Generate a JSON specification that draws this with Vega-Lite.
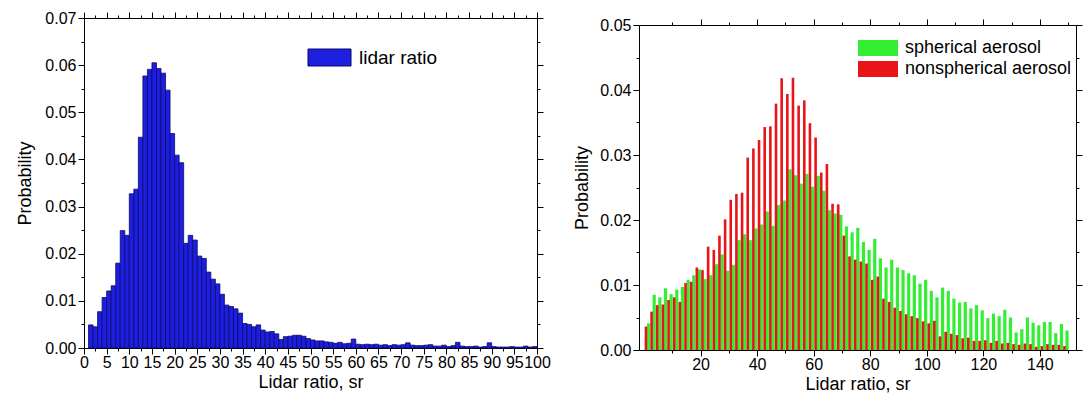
{
  "$schema": "https://vega.github.io/schema/vega-lite/v6.json",
  "background": "white",
  "padding": {"left": 16, "top": 10, "right": 2, "bottom": 2},
  "config": {
    "font": "Liberation Sans",
    "view": {"stroke": null},
    "axis": {"grid": false, "domainColor": "black", "tickColor": "black", "labelColor": "black", "titleColor": "black", "labelFont": "Liberation Sans", "titleFont": "Liberation Sans", "labelFontSize": 16, "titleFontSize": 18, "titleFontWeight": "normal", "tickWidth": 1, "domainWidth": 1, "labelOverlap": false, "labelFlush": false},
    "legend": {"labelFont": "Liberation Sans", "labelColor": "black", "padding": 0, "labelLimit": 400}
  },
  "datasets": {
    "left": [
      {"lo":1,"hi":2,"p":0.0049},{"lo":2,"hi":3,"p":0.0045},{"lo":3,"hi":4,"p":0.0077},{"lo":4,"hi":5,"p":0.0107},{"lo":5,"hi":6,"p":0.0121},
      {"lo":6,"hi":7,"p":0.0132},{"lo":7,"hi":8,"p":0.018},{"lo":8,"hi":9,"p":0.0249},{"lo":9,"hi":10,"p":0.0239},{"lo":10,"hi":11,"p":0.0327},
      {"lo":11,"hi":12,"p":0.0337},{"lo":12,"hi":13,"p":0.0447},{"lo":13,"hi":14,"p":0.0577},{"lo":14,"hi":15,"p":0.0591},{"lo":15,"hi":16,"p":0.0605},
      {"lo":16,"hi":17,"p":0.0593},{"lo":17,"hi":18,"p":0.0583},{"lo":18,"hi":19,"p":0.0547},{"lo":19,"hi":20,"p":0.0455},{"lo":20,"hi":21,"p":0.0409},
      {"lo":21,"hi":22,"p":0.0393},{"lo":22,"hi":23,"p":0.0222},{"lo":23,"hi":24,"p":0.0239},{"lo":24,"hi":25,"p":0.0229},{"lo":25,"hi":26,"p":0.0195},
      {"lo":26,"hi":27,"p":0.019},{"lo":27,"hi":28,"p":0.0161},{"lo":28,"hi":29,"p":0.0146},{"lo":29,"hi":30,"p":0.0136},{"lo":30,"hi":31,"p":0.0114},
      {"lo":31,"hi":32,"p":0.0091},{"lo":32,"hi":33,"p":0.0088},{"lo":33,"hi":34,"p":0.0083},{"lo":34,"hi":35,"p":0.0074},{"lo":35,"hi":36,"p":0.0052},
      {"lo":36,"hi":37,"p":0.005},{"lo":37,"hi":38,"p":0.0045},{"lo":38,"hi":39,"p":0.0049},{"lo":39,"hi":40,"p":0.0038},{"lo":40,"hi":41,"p":0.0034},
      {"lo":41,"hi":42,"p":0.0035},{"lo":42,"hi":43,"p":0.003},{"lo":43,"hi":44,"p":0.0018},{"lo":44,"hi":45,"p":0.0024},{"lo":45,"hi":46,"p":0.0025},
      {"lo":46,"hi":47,"p":0.0027},{"lo":47,"hi":48,"p":0.0027},{"lo":48,"hi":49,"p":0.0025},{"lo":49,"hi":50,"p":0.002},{"lo":50,"hi":51,"p":0.0017},
      {"lo":51,"hi":52,"p":0.0015},{"lo":52,"hi":53,"p":0.0015},{"lo":53,"hi":54,"p":0.0013},{"lo":54,"hi":55,"p":0.0012},{"lo":55,"hi":56,"p":0.001},
      {"lo":56,"hi":57,"p":0.0012},{"lo":57,"hi":58,"p":0.0009},{"lo":58,"hi":59,"p":0.001},{"lo":59,"hi":60,"p":0.0019},{"lo":60,"hi":61,"p":0.0008},
      {"lo":61,"hi":62,"p":0.0007},{"lo":62,"hi":63,"p":0.0008},{"lo":63,"hi":64,"p":0.0007},{"lo":64,"hi":65,"p":0.0008},{"lo":65,"hi":66,"p":0.0006},
      {"lo":66,"hi":67,"p":0.0007},{"lo":67,"hi":68,"p":0.0005},{"lo":68,"hi":69,"p":0.0007},{"lo":69,"hi":70,"p":0.0006},{"lo":70,"hi":71,"p":0.0007},
      {"lo":71,"hi":72,"p":0.0011},{"lo":72,"hi":73,"p":0.0006},{"lo":73,"hi":74,"p":0.0005},{"lo":74,"hi":75,"p":0.0005},{"lo":75,"hi":76,"p":0.0006},
      {"lo":76,"hi":77,"p":0.0007},{"lo":77,"hi":78,"p":0.0004},{"lo":78,"hi":79,"p":0.0004},{"lo":79,"hi":80,"p":0.0006},{"lo":80,"hi":81,"p":0.0003},
      {"lo":81,"hi":82,"p":0.0005},{"lo":82,"hi":83,"p":0.0012},{"lo":83,"hi":84,"p":0.0004},{"lo":84,"hi":85,"p":0.0003},{"lo":85,"hi":86,"p":0.0003},
      {"lo":86,"hi":87,"p":0.0004},{"lo":87,"hi":88,"p":0.0002},{"lo":88,"hi":89,"p":0.0003},{"lo":89,"hi":90,"p":0.0011},{"lo":90,"hi":91,"p":0.0003},
      {"lo":91,"hi":92,"p":0.0002},{"lo":92,"hi":93,"p":0.0002},{"lo":93,"hi":94,"p":0.0002},{"lo":94,"hi":95,"p":0.0003},{"lo":95,"hi":96,"p":0.0002},
      {"lo":96,"hi":97,"p":0.0002},{"lo":97,"hi":98,"p":0.0004},{"lo":98,"hi":99,"p":0.0002},{"lo":99,"hi":100,"p":0.0003}
    ],
    "sph": [
      {"c":1,"p":0.0041},{"c":3,"p":0.0085},{"c":5,"p":0.0081},{"c":7,"p":0.0095},{"c":9,"p":0.0086},
      {"c":11,"p":0.0093},{"c":13,"p":0.0097},{"c":15,"p":0.0108},{"c":17,"p":0.0115},{"c":19,"p":0.0124},
      {"c":21,"p":0.0109},{"c":23,"p":0.0115},{"c":25,"p":0.0132},{"c":27,"p":0.0147},{"c":29,"p":0.0122},
      {"c":31,"p":0.0131},{"c":33,"p":0.0169},{"c":35,"p":0.0178},{"c":37,"p":0.0169},{"c":39,"p":0.0187},
      {"c":41,"p":0.0193},{"c":43,"p":0.0213},{"c":45,"p":0.0191},{"c":47,"p":0.0223},{"c":49,"p":0.023},
      {"c":51,"p":0.0278},{"c":53,"p":0.0269},{"c":55,"p":0.0256},{"c":57,"p":0.0271},{"c":59,"p":0.0251},
      {"c":61,"p":0.0268},{"c":63,"p":0.0245},{"c":65,"p":0.0215},{"c":67,"p":0.021},{"c":69,"p":0.0208},
      {"c":71,"p":0.019},{"c":73,"p":0.0181},{"c":75,"p":0.0188},{"c":77,"p":0.0166},{"c":79,"p":0.0154},
      {"c":81,"p":0.0171},{"c":83,"p":0.0141},{"c":85,"p":0.0127},{"c":87,"p":0.0139},{"c":89,"p":0.0127},
      {"c":91,"p":0.0123},{"c":93,"p":0.0118},{"c":95,"p":0.0115},{"c":97,"p":0.0102},{"c":99,"p":0.0108},
      {"c":101,"p":0.0091},{"c":103,"p":0.0081},{"c":105,"p":0.0096},{"c":107,"p":0.0091},{"c":109,"p":0.0079},
      {"c":111,"p":0.0073},{"c":113,"p":0.0074},{"c":115,"p":0.0064},{"c":117,"p":0.0069},{"c":119,"p":0.0061},
      {"c":121,"p":0.0049},{"c":123,"p":0.0056},{"c":125,"p":0.0052},{"c":127,"p":0.0062},{"c":129,"p":0.005},
      {"c":131,"p":0.0027},{"c":133,"p":0.0032},{"c":135,"p":0.005},{"c":137,"p":0.0042},{"c":139,"p":0.0038},
      {"c":141,"p":0.0043},{"c":143,"p":0.0043},{"c":145,"p":0.0026},{"c":147,"p":0.004},{"c":149,"p":0.003}
    ],
    "nonsph": [
      {"c":1,"p":0.0036},{"c":3,"p":0.0059},{"c":5,"p":0.0069},{"c":7,"p":0.007},{"c":9,"p":0.0077},
      {"c":11,"p":0.0081},{"c":13,"p":0.0074},{"c":15,"p":0.0103},{"c":17,"p":0.0105},{"c":19,"p":0.0127},
      {"c":21,"p":0.0123},{"c":23,"p":0.0159},{"c":25,"p":0.0154},{"c":27,"p":0.0176},{"c":29,"p":0.0201},
      {"c":31,"p":0.0231},{"c":33,"p":0.024},{"c":35,"p":0.0242},{"c":37,"p":0.0296},{"c":39,"p":0.031},
      {"c":41,"p":0.0323},{"c":43,"p":0.0343},{"c":45,"p":0.0344},{"c":47,"p":0.0379},{"c":49,"p":0.0418},
      {"c":51,"p":0.0394},{"c":53,"p":0.0419},{"c":55,"p":0.0376},{"c":57,"p":0.0384},{"c":59,"p":0.0349},
      {"c":61,"p":0.0327},{"c":63,"p":0.0273},{"c":65,"p":0.0286},{"c":67,"p":0.0225},{"c":69,"p":0.0224},
      {"c":71,"p":0.0176},{"c":73,"p":0.0144},{"c":75,"p":0.0139},{"c":77,"p":0.0136},{"c":79,"p":0.0133},
      {"c":81,"p":0.0108},{"c":83,"p":0.0113},{"c":85,"p":0.0079},{"c":87,"p":0.0074},{"c":89,"p":0.0065},
      {"c":91,"p":0.006},{"c":93,"p":0.0055},{"c":95,"p":0.0052},{"c":97,"p":0.0049},{"c":99,"p":0.0044},
      {"c":101,"p":0.0041},{"c":103,"p":0.0045},{"c":105,"p":0.0021},{"c":107,"p":0.0028},{"c":109,"p":0.0025},
      {"c":111,"p":0.0023},{"c":113,"p":0.0018},{"c":115,"p":0.0019},{"c":117,"p":0.0014},{"c":119,"p":0.0014},
      {"c":121,"p":0.0015},{"c":123,"p":0.0011},{"c":125,"p":0.0014},{"c":127,"p":0.001},{"c":129,"p":0.0011},
      {"c":131,"p":0.0009},{"c":133,"p":0.0008},{"c":135,"p":0.001},{"c":137,"p":0.0009},{"c":139,"p":0.0005},
      {"c":141,"p":0.0006},{"c":143,"p":0.0009},{"c":145,"p":0.0008},{"c":147,"p":0.0008},{"c":149,"p":0.0006}
    ]
  },
  "spacing": 22,
  "resolve": {"scale": {"color": "independent"}, "legend": {"color": "independent"}},
  "hconcat": [
    {
      "width": 453,
      "height": 330,
      "data": {"name": "left"},
      "resolve": {"axis": {"x": "independent", "y": "independent"}},
      "layer": [
        {
          "mark": {"type": "bar", "stroke": "#0a0a6a", "strokeWidth": 0.8},
          "encoding": {
            "x": {"field": "lo", "type": "quantitative", "scale": {"domain": [0, 100], "nice": false, "zero": false},
              "axis": {"orient": "bottom", "values": [0,5,10,15,20,25,30,35,40,45,50,55,60,65,70,75,80,85,90,95,100], "tickSize": 6, "labelPadding": 0, "title": "Lidar ratio, sr", "titlePadding": 3}},
            "x2": {"field": "hi"},
            "y": {"field": "p", "type": "quantitative", "stack": null, "scale": {"domain": [0, 0.07], "nice": false},
              "axis": {"orient": "left", "values": [0,0.01,0.02,0.03,0.04,0.05,0.06,0.07], "format": ".2f", "tickSize": 6, "labelPadding": 2, "title": "Probability", "titlePadding": 10}},
            "y2": {"datum": 0},
            "color": {"datum": "lidar ratio", "scale": {"range": ["#1e1ee0"]},
              "legend": {"title": null, "orient": "none", "legendX": 236, "legendY": 30, "symbolType": "M-2.53,-1H2.53V1H-2.53Z", "symbolSize": 289, "symbolStrokeColor": "#0a0a6a", "symbolStrokeWidth": 1, "symbolOpacity": 1, "labelFontSize": 19, "labelOffset": 20}}
          }
        },
        {
          "mark": {"type": "point", "opacity": 0},
          "encoding": {
            "x": {"field": "lo", "type": "quantitative", "axis": {"orient": "top", "values": [0,5,10,15,20,25,30,35,40,45,50,55,60,65,70,75,80,85,90,95,100], "tickSize": 6, "labels": false, "title": null}},
            "y": {"field": "p", "type": "quantitative", "axis": {"orient": "right", "values": [0,0.01,0.02,0.03,0.04,0.05,0.06,0.07], "tickSize": 6, "labels": false, "title": null}}
          }
        },
        {
          "mark": {"type": "point", "opacity": 0},
          "encoding": {
            "x": {"field": "lo", "type": "quantitative", "axis": {"orient": "bottom", "values": [2.5,7.5,12.5,17.5,22.5,27.5,32.5,37.5,42.5,47.5,52.5,57.5,62.5,67.5,72.5,77.5,82.5,87.5,92.5,97.5], "tickSize": 3, "labels": false, "domain": false, "title": null}},
            "y": {"field": "p", "type": "quantitative", "axis": {"orient": "left", "values": [0.005,0.015,0.025,0.035,0.045,0.055,0.065], "tickSize": 3, "labels": false, "domain": false, "title": null}}
          }
        },
        {
          "mark": {"type": "point", "opacity": 0},
          "encoding": {
            "x": {"field": "lo", "type": "quantitative", "axis": {"orient": "top", "values": [2.5,7.5,12.5,17.5,22.5,27.5,32.5,37.5,42.5,47.5,52.5,57.5,62.5,67.5,72.5,77.5,82.5,87.5,92.5,97.5], "tickSize": 3, "labels": false, "domain": false, "title": null}},
            "y": {"field": "p", "type": "quantitative", "axis": {"orient": "right", "values": [0.005,0.015,0.025,0.035,0.045,0.055,0.065], "tickSize": 3, "labels": false, "domain": false, "title": null}}
          }
        }
      ]
    },
    {
      "spacing": -2,
      "vconcat": [
        {
          "width": 437,
          "height": 1,
          "data": {"values": [{"k": 0}]},
          "mark": {"type": "point", "size": 0, "opacity": 0},
          "encoding": {}
        },
        {
          "width": 437,
          "height": 325,
          "resolve": {"axis": {"x": "independent", "y": "independent"}},
          "layer": [
            {
              "data": {"name": "sph"},
              "mark": {"type": "bar", "width": 3.2, "xOffset": 1.7},
              "encoding": {
                "x": {"field": "c", "type": "quantitative", "scale": {"domain": [0, 151], "nice": false, "zero": false},
                  "axis": {"orient": "bottom", "values": [20,40,60,80,100,120,140], "tickSize": 6, "labelPadding": 0, "title": "Lidar ratio, sr", "titlePadding": 3}},
                "y": {"field": "p", "type": "quantitative", "stack": null, "scale": {"domain": [0, 0.05], "nice": false},
                  "axis": {"orient": "left", "values": [0,0.01,0.02,0.03,0.04,0.05], "format": ".2f", "tickSize": 6, "labelPadding": 2, "title": "Probability", "titlePadding": 8}},
                "color": {"datum": "spherical aerosol", "scale": {"domain": ["spherical aerosol", "nonspherical aerosol"], "range": ["#33ee33", "#e81418"]},
                  "legend": {"title": null, "orient": "none", "legendX": 230, "legendY": 21, "symbolType": "M-2.5,-1H2.5V1H-2.5Z", "symbolSize": 256, "symbolStrokeWidth": 0, "symbolOpacity": 1, "labelFontSize": 18, "labelOffset": 18, "rowPadding": 3}}
              }
            },
            {
              "data": {"name": "nonsph"},
              "mark": {"type": "bar", "width": 2.6, "xOffset": -0.9},
              "encoding": {
                "x": {"field": "c", "type": "quantitative", "axis": null},
                "y": {"field": "p", "type": "quantitative", "stack": null, "axis": null},
                "color": {"datum": "nonspherical aerosol"}
              }
            },
            {
              "data": {"name": "sph"},
              "mark": {"type": "point", "opacity": 0},
              "encoding": {
                "x": {"field": "c", "type": "quantitative", "axis": {"orient": "top", "values": [20,40,60,80,100,120,140], "tickSize": 6, "labels": false, "title": null}},
                "y": {"field": "p", "type": "quantitative", "axis": {"orient": "right", "values": [0,0.01,0.02,0.03,0.04,0.05], "tickSize": 6, "labels": false, "title": null}}
              }
            },
            {
              "data": {"name": "sph"},
              "mark": {"type": "point", "opacity": 0},
              "encoding": {
                "x": {"field": "c", "type": "quantitative", "axis": {"orient": "bottom", "values": [10,30,50,70,90,110,130,150], "tickSize": 3, "labels": false, "domain": false, "title": null}},
                "y": {"field": "p", "type": "quantitative", "axis": {"orient": "left", "values": [0.005,0.015,0.025,0.035,0.045], "tickSize": 3, "labels": false, "domain": false, "title": null}}
              }
            },
            {
              "data": {"name": "sph"},
              "mark": {"type": "point", "opacity": 0},
              "encoding": {
                "x": {"field": "c", "type": "quantitative", "axis": {"orient": "top", "values": [10,30,50,70,90,110,130,150], "tickSize": 3, "labels": false, "domain": false, "title": null}},
                "y": {"field": "p", "type": "quantitative", "axis": {"orient": "right", "values": [0.005,0.015,0.025,0.035,0.045], "tickSize": 3, "labels": false, "domain": false, "title": null}}
              }
            }
          ]
        }
      ]
    }
  ]
}
